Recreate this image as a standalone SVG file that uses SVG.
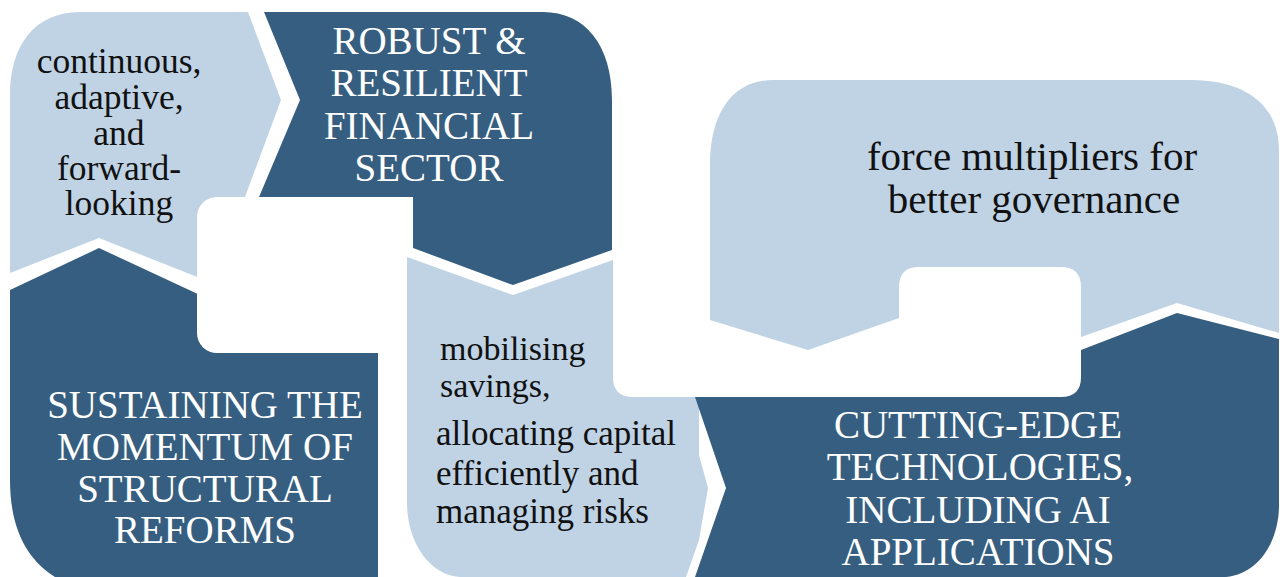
<svg xmlns="http://www.w3.org/2000/svg" width="1282" height="577" viewBox="0 0 1282 577">
<style>
.dark{fill:#365E80}
.light{fill:#BFD3E5}
.gap{fill:#FFFFFF}
.tw{fill:#FFFFFF;font-size:39px;text-anchor:middle}
.tb{fill:#111111;text-anchor:middle}
.tl{fill:#111111}
</style>
<rect width="1282" height="577" fill="#FFFFFF"/>
<g id="node-continuous">
<path class="light" d="M10,273 L99,238 L230,290 L230,197 L245,197 L281,100 L248,12 L80,12 C35,12 10,45 10,95 Z"/>
<text class="tb" font-family="'Liberation Serif', serif" font-size="35.5"><tspan x="119" y="73">continuous,</tspan><tspan x="119" y="109">adaptive,</tspan><tspan x="119" y="145">and</tspan><tspan x="119" y="180">forward-</tspan><tspan x="119" y="215">looking</tspan></text>
</g>
<g id="node-robust">
<path class="dark" d="M264,12 L543,12 C585,12 612,45 612,100 L612,250 L513,285 L413,248 L413,197 L259,197 L300,100 Z"/>
<text class="tw" font-family="'Liberation Serif', serif"><tspan x="429" y="54">ROBUST &amp;</tspan><tspan x="429" y="96">RESILIENT</tspan><tspan x="429" y="139">FINANCIAL</tspan><tspan x="429" y="181">SECTOR</tspan></text>
</g>
<g id="node-sustaining">
<path class="dark" d="M10,290 L99,248 L230,309 L230,345 L378,345 L378,577 L55,577 C28,560 10,530 10,480 Z"/>
<text class="tw" font-family="'Liberation Serif', serif"><tspan x="205" y="418">SUSTAINING THE</tspan><tspan x="205" y="460">MOMENTUM OF</tspan><tspan x="205" y="502">STRUCTURAL</tspan><tspan x="205" y="543">REFORMS</tspan></text>
</g>
<rect class="gap" x="197" y="197" width="216" height="156" rx="20" ry="20"/>
<g id="node-mobilising">
<path class="light" d="M407,257 L513,295 L613,260 L613,377 Q613,397 633,397 L699,397 L699,455 L708,488 L699,540 L686,577 L460,577 C428,575 407,540 407,503 Z"/>
<text class="tl" font-family="'Liberation Serif', serif" font-size="34"><tspan x="440" y="360">mobilising</tspan><tspan x="440" y="397">savings,</tspan></text>
<text class="tl" font-family="'Liberation Serif', serif" font-size="35"><tspan x="436" y="445">allocating capital</tspan><tspan x="436" y="485">efficiently and</tspan><tspan x="436" y="523">managing risks</tspan></text>
</g>
<g id="node-force">
<path class="light" d="M773,80 L1191,80 C1245,80 1279,105 1279,150 L1279,333 L1177,303 L1081,337 L1081,287 Q1081,267 1061,267 L919,267 Q899,267 899,287 L899,318 L808,350 L710,320 L710,165 C710,110 735,80 773,80 Z"/>
<text class="tb" font-family="'Liberation Serif', serif" font-size="41"><tspan x="1032" y="170">force multipliers for</tspan><tspan x="1034" y="213">better governance</tspan></text>
</g>
<g id="node-cutting">
<path class="dark" d="M695,397 L1061,397 Q1081,397 1081,377 L1081,350 L1177,313 L1279,339 L1279,505 C1279,545 1255,577 1222,577 L695,577 L726,488 Z"/>
<text class="tw" font-family="'Liberation Serif', serif"><tspan x="978" y="438">CUTTING-EDGE</tspan><tspan x="980" y="480">TECHNOLOGIES,</tspan><tspan x="978" y="523">INCLUDING AI</tspan><tspan x="978" y="565">APPLICATIONS</tspan></text>
</g>
<g id="connectors"></g>
</svg>
